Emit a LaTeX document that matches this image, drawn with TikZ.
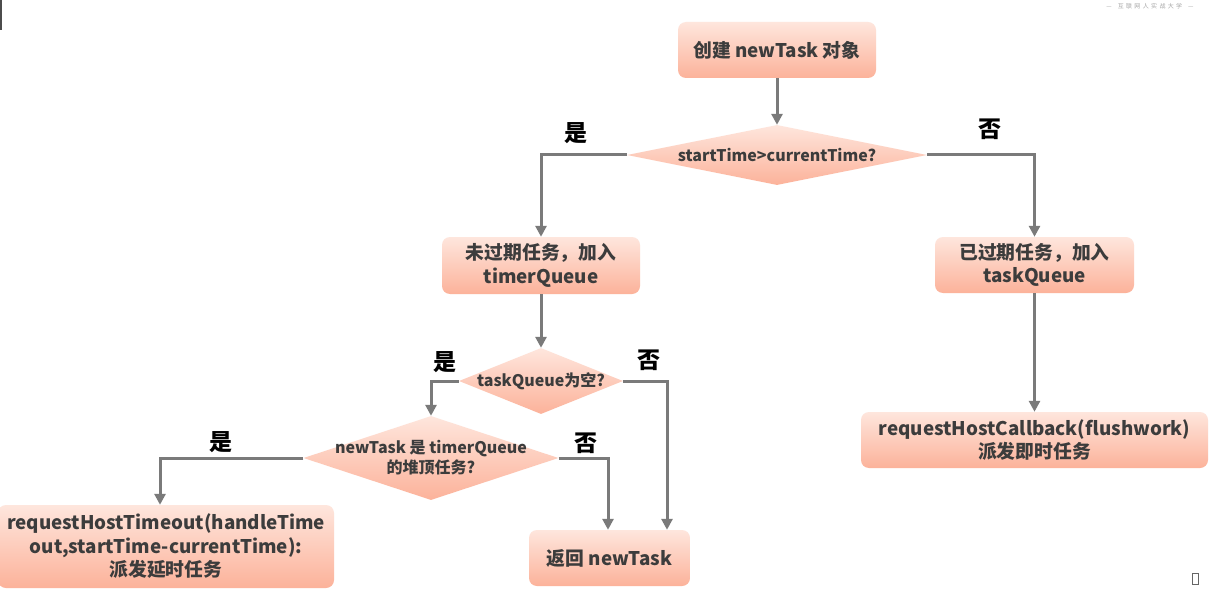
\documentclass[tikz,border=0pt]{standalone}
\usepackage{fontspec}
\setmainfont{Noto Sans CJK SC}
\usetikzlibrary{shapes.geometric,arrows.meta}
\definecolor{boxtop}{HTML}{FEE6DD}
\definecolor{boxbot}{HTML}{FCB29A}
\definecolor{txt}{HTML}{3C3C3C}
\definecolor{arrc}{HTML}{7A7A7A}
\tikzset{
  box/.style={rounded corners=8pt, top color=boxtop, bottom color=boxbot, draw=none,
    align=center, font=\fontsize{18.8}{23.5}\selectfont\bfseries, text=txt, inner sep=0pt},
  dia/.style={diamond, top color=boxtop, bottom color=boxbot, draw=none, inner sep=0pt},
  dtext/.style={font=\fontsize{16}{20}\selectfont\bfseries, text=txt, align=center},
  yn/.style={font=\fontsize{23}{24}\selectfont\bfseries, text=black},
  arr/.style={draw=arrc, line width=3pt, -{Triangle[length=11pt,width=11pt]}},
}
\begin{document}
\begin{tikzpicture}[x=1pt,y=-1pt]
\useasboundingbox (0,0) rectangle (1215,596);
\fill[white] (0,0) rectangle (1215,596);
% watermark and artifacts
\node[font=\fontsize{6}{7}\selectfont, text=black!35] (wm) at (1150,6) {—\quad 互\ \,联\ \,网\ \,人\ \,实\ \,战\ \,大\ \,学\quad —};
\draw[black!70, line width=1.5pt] (0.75,0) -- (0.75,30);
\draw[black!60, line width=0.8pt] (1192,573) rectangle (1198,584);
% nodes
\node[box, minimum width=198pt, minimum height=56pt] (b1) at (777,50) {创建 newTask 对象};
\node[dia, minimum width=300pt, minimum height=60pt, label={[dtext]center:startTime>currentTime?}] (d1) at (777,155) {};
\node[box, minimum width=198pt, minimum height=57pt] (b2) at (541,265.5) {未过期任务，加入\\timerQueue};
\node[box, minimum width=199pt, minimum height=56pt] (b3) at (1034.5,265) {已过期任务，加入\\taskQueue};
\node[box, minimum width=347pt, minimum height=56pt] (b4) at (1034.5,440) {requestHostCallback(flushwork)\\派发即时任务};
\node[dia, minimum width=164pt, minimum height=66pt, label={[dtext]center:taskQueue为空?}] (d2) at (541,381) {};
\node[dia, minimum width=255pt, minimum height=84pt, label={[dtext]center:newTask 是 timerQueue\\的堆顶任务?}] (d3) at (431,458) {};
\node[box, minimum width=161pt, minimum height=56pt] (b5) at (609.5,558) {返回 newTask};
\node[box, minimum width=336pt, minimum height=83pt] (b6) at (166,546.5) {requestHostTimeout(handleTime\\out,startTime-currentTime):\\派发延时任务};
% labels
\node[yn] (y1) at (576,133) {是};
\node[yn] (n1) at (990,129) {否};
\node[yn] (y2) at (445,362) {是};
\node[yn] (n2) at (649,360) {否};
\node[yn] (y3) at (221,442) {是};
\node[yn] (n3) at (586,443) {否};
% connectors
\draw[arr] (b1.south) -- (d1.north);
\draw[arr] (d1.west) -| (b2.north);
\draw[arr] (d1.east) -| (b3.north);
\draw[arr] (b3.south) -- (b4.north);
\draw[arr] (b2.south) -- (d2.north);
\draw[arr] (d2.west) -| (d3.north);
\draw[arr] (d2.east) -| ([xshift=57.5pt]b5.north);
\draw[arr] (d3.east) -| ([xshift=-1.5pt]b5.north);
\draw[arr] (d3.west) -| ([xshift=-6pt]b6.north);
\end{tikzpicture}
\end{document}
